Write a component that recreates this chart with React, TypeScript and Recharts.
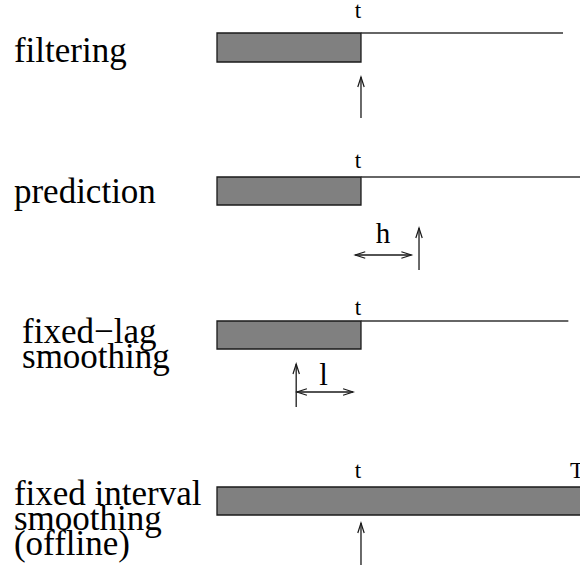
import React from 'react';
import { ComposedChart, XAxis, YAxis, ReferenceArea, ReferenceLine, Scatter } from 'recharts';

// ---- data (time units: 0 = first observation, 10 = current time t) ----
const tNow = 10;
const intervalEnd = 25; // T
const panelLabels: string[][] = [
  ['filtering'],
  ['prediction'],
  ['fixed\u2212lag', 'smoothing'],
  ['fixed interval', 'smoothing', '(offline)'],
];
// vertical lane positions (layout units, top to bottom)
const laneTop = [33, 177, 321, 487];
const laneBottom = [62, 205, 349, 515];
const labelBaseline = [62, 203, 343, 505];
// horizontal start of each panel's name (time units, left of the data span)
const labelStart = [-14.1, -14.1, -13.54, -14.1];
// observed data span per panel
const observedStart = [0, 0, 0, 0];
const observedEnd = [tNow, tNow, tNow, 26];
// thin future time line end for panels 1-3
const futureLineEnd = [24.03, 26, 24.4];
// estimate arrows: [time, tailY, tipY]
const estimateArrows: [number, number, number][] = [
  [tNow, 118, 77],
  [14.03, 270, 228],
  [5.5, 407, 364],
  [tNow, 565, 523],
];
// span arrows (double headed): [from, to, y]
const spanArrows: [number, number, number][] = [
  [9.6, 13.5, 255],
  [5.55, 9.45, 392],
];
// annotation texts
const annotations = [
  { x: tNow, y: 18, text: 't', kind: 'small' },
  { x: tNow, y: 168, text: 't', kind: 'small' },
  { x: tNow, y: 315, text: 't', kind: 'small' },
  { x: tNow, y: 478, text: 't', kind: 'small' },
  { x: intervalEnd, y: 478, text: 'T', kind: 'T' },
  { x: 11.53, y: 243, text: 'h', kind: 'h' },
  { x: 7.4, y: 385, text: 'l', kind: 'l' },
];

const nameData = panelLabels.map((lines, i) => ({
  x: labelStart[i],
  y: labelBaseline[i],
  lines,
}));

const W = 580;
const H = 579;
const SERIF = '"Liberation Serif", "Times New Roman", Times, serif';
const LINE_GAP = 25;
const INK = '#1a1a1a';

const annStyle: Record<string, { size: number; dx: number }> = {
  small: { size: 23, dx: -3 },
  T: { size: 23, dx: 0 },
  h: { size: 29, dx: 0 },
  l: { size: 31, dx: 0 },
};

const drawHead = (xa: number, ya: number, xb: number, yb: number, key: string) => {
  const L = 10;
  const Wd = 3.2;
  const dx = xb - xa;
  const dy = yb - ya;
  const len = Math.hypot(dx, dy) || 1;
  const ux = dx / len;
  const uy = dy / len;
  const bx = xb - ux * L;
  const by = yb - uy * L;
  const px = -uy * Wd;
  const py = ux * Wd;
  return (
    <polyline
      key={key}
      points={`${bx + px},${by + py} ${xb},${yb} ${bx - px},${by - py}`}
      fill="none"
      stroke={INK}
      strokeWidth={1.2}
    />
  );
};

const arrowShape = (both: boolean) => (p: any) => {
  const { x1, y1, x2, y2 } = p;
  return (
    <g>
      <line x1={x1} y1={y1} x2={x2} y2={y2} stroke={INK} strokeWidth={1.3} />
      {drawHead(x1, y1, x2, y2, 'a')}
      {both ? drawHead(x2, y2, x1, y1, 'b') : null}
    </g>
  );
};

const NameShape = (p: any) => {
  const d = p.payload;
  return (
    <text x={p.cx} y={p.cy} fontFamily={SERIF} fontSize={35} fill="#000" textAnchor="start">
      {d.lines.map((line: string, i: number) => (
        <tspan key={i} x={p.cx} dy={i === 0 ? 0 : LINE_GAP}>
          {line}
        </tspan>
      ))}
    </text>
  );
};

const AnnotationShape = (p: any) => {
  const d = p.payload;
  const st = annStyle[d.kind];
  return (
    <text
      x={p.cx + st.dx}
      y={p.cy}
      textAnchor="middle"
      fontFamily={SERIF}
      fontSize={st.size}
      fill="#000"
    >
      {d.text}
    </text>
  );
};

export default function App() {
  return (
    <div style={{ position: 'absolute', left: 0, top: 0, width: W, height: H, background: '#fff' }}>
      <ComposedChart width={W} height={H} margin={{ top: 0, right: 0, bottom: 0, left: 0 }}>
        <XAxis type="number" dataKey="x" domain={[-15.07, 25.21]} allowDataOverflow hide />
        <YAxis type="number" dataKey="y" domain={[0, H]} reversed allowDataOverflow hide />
        {laneTop.map((top, i) => (
          <ReferenceArea
            key={`bar${i}`}
            x1={observedStart[i]}
            x2={observedEnd[i]}
            y1={top}
            y2={laneBottom[i]}
            fill="#808080"
            fillOpacity={1}
            stroke={INK}
            strokeWidth={1.3}
            ifOverflow="hidden"
          />
        ))}
        {futureLineEnd.map((end, i) => (
          <ReferenceLine
            key={`fut${i}`}
            segment={[
              { x: tNow, y: laneTop[i] },
              { x: end, y: laneTop[i] },
            ]}
            stroke="#333"
            strokeWidth={1.3}
            ifOverflow="hidden"
          />
        ))}
        {estimateArrows.map(([t, tail, tip], i) => (
          <ReferenceLine
            key={`est${i}`}
            segment={[
              { x: t, y: tail },
              { x: t, y: tip },
            ]}
            ifOverflow="visible"
            shape={arrowShape(false)}
          />
        ))}
        {spanArrows.map(([a, b, y], i) => (
          <ReferenceLine
            key={`span${i}`}
            segment={[
              { x: a, y },
              { x: b, y },
            ]}
            ifOverflow="visible"
            shape={arrowShape(true)}
          />
        ))}
        <Scatter
          data={nameData}
          dataKey="y"
          isAnimationActive={false}
          shape={<NameShape />}
        />
        <Scatter
          data={annotations}
          dataKey="y"
          isAnimationActive={false}
          shape={<AnnotationShape />}
        />
      </ComposedChart>
    </div>
  );
}
